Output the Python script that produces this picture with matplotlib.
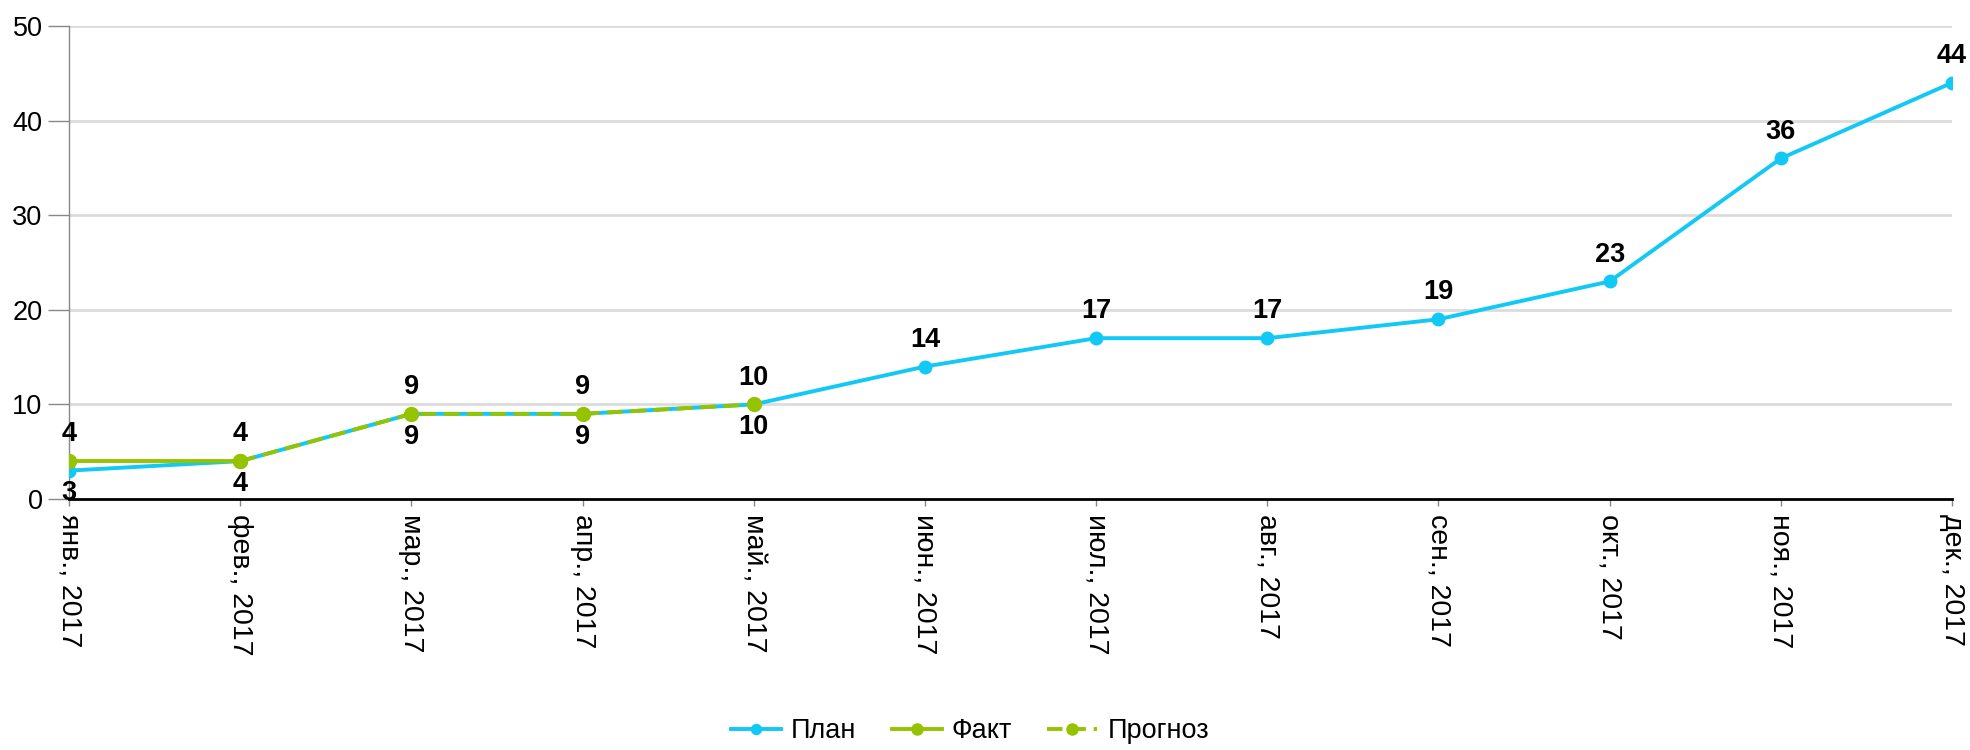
import matplotlib
matplotlib.use("Agg")
import matplotlib.pyplot as plt

plt.rcParams['font.family'] = ['Liberation Sans', 'DejaVu Sans']

# Data
months = ["янв., 2017", "фев., 2017", "мар., 2017", "апр., 2017", "май., 2017", "июн., 2017",
          "июл., 2017", "авг., 2017", "сен., 2017", "окт., 2017", "ноя., 2017", "дек., 2017"]
plan = [3, 4, 9, 9, 10, 14, 17, 17, 19, 23, 36, 44]
fact = [4, 4]
forecast = [4, 9, 9, 10]   # from фев. to май

blue = "#12c8f5"
green = "#95c300"

fig = plt.figure(figsize=(19.7, 7.5), dpi=100)
ax = fig.add_axes([69 / 1970, 1 - 499 / 750, 1883 / 1970, 473 / 750])

x = list(range(len(months)))
ax.plot(x, plan, color=blue, lw=2.8, marker="o", ms=9, label="План", zorder=3)
ax.plot(x[:2], fact, color=green, lw=2.8, marker="o", ms=10, label="Факт", zorder=4)
ax.plot(x[1:5], forecast, color=green, lw=2.8, ls=(0, (4, 2)), marker="o", ms=10,
        label="Прогноз", zorder=5)

# value labels
lab = dict(fontsize=19.5, fontweight="bold", ha="center", annotation_clip=False)
for i, v in enumerate(plan):
    if i < 5:
        ax.annotate(str(v), (i, v), xytext=(0, -7), textcoords="offset points", va="top", **lab)
    else:
        ax.annotate(str(v), (i, v), xytext=(0, 10), textcoords="offset points", va="bottom", **lab)
for i, v in enumerate(fact):
    ax.annotate(str(v), (i, v), xytext=(0, 10), textcoords="offset points", va="bottom", **lab)
for i, v in enumerate(forecast[1:], start=2):
    ax.annotate(str(v), (i, v), xytext=(0, 10), textcoords="offset points", va="bottom", **lab)

ax.set_xlim(0, len(months) - 1)
ax.set_ylim(0, 50)
ax.set_yticks(range(0, 51, 10))
ax.set_xticks(x)
ax.set_xticklabels(months, rotation=270, fontsize=20.5)
ax.tick_params(axis="y", labelsize=19.5, length=15, color="#888888", width=1, pad=4)
ax.tick_params(axis="x", length=5, color="#888888", width=1, pad=6)
ax.grid(axis="y", color="#dcdcdc", lw=2)
ax.set_axisbelow(True)
for s in ["top", "right"]:
    ax.spines[s].set_visible(False)
ax.spines["left"].set_color("#888888")
ax.spines["left"].set_linewidth(1)
ax.spines["bottom"].set_color("black")
ax.spines["bottom"].set_linewidth(2)

fig.legend(loc="center", bbox_to_anchor=(970 / 1970, 1 - 731 / 750), ncol=3, frameon=False,
           fontsize=19.5, handlelength=1.85, handletextpad=0.37, columnspacing=1.3, markerscale=0.8)

fig.savefig("out.png", dpi=100)
